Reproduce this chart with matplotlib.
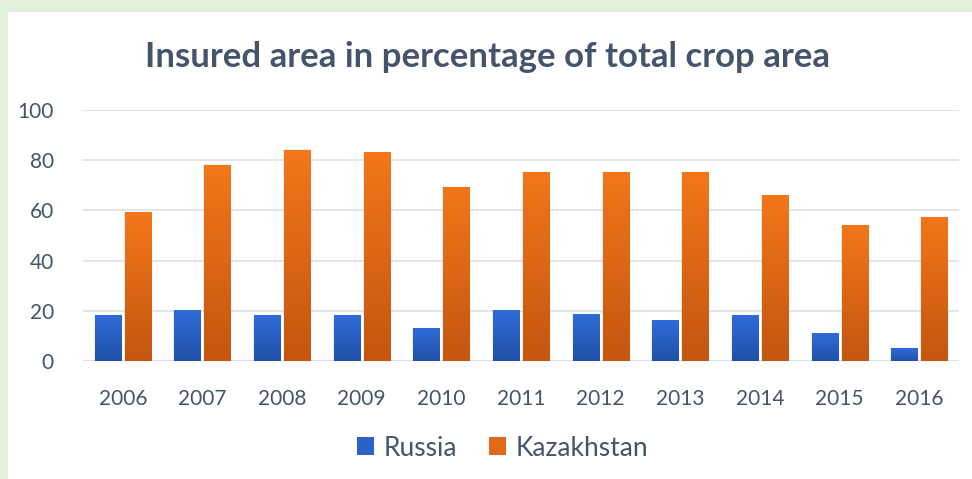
import numpy as np
import matplotlib
matplotlib.use("Agg")
import matplotlib.pyplot as plt
from matplotlib.colors import LinearSegmentedColormap
from matplotlib.patches import Rectangle

years = ["2006", "2007", "2008", "2009", "2010", "2011", "2012", "2013", "2014", "2015", "2016"]
russia = [18, 20, 18, 18, 13, 20, 18.5, 16, 18, 11, 5]
kazakhstan = [59, 78, 84, 83, 69, 75, 75, 75, 66, 54, 57]

txt = "#44546a"
plt.rcParams['font.family'] = ['Lato', 'DejaVu Sans']

fig = plt.figure(figsize=(9.72, 4.79), dpi=100)
fig.patch.set_facecolor("#e2efda")
# white chart area inside green frame
bg = fig.add_axes([8 / 972, 0, 1 - 8 / 972, 1 - 12 / 479], zorder=-1)
bg.set_facecolor("white")
bg.set_xticks([])
bg.set_yticks([])
for s in bg.spines.values():
    s.set_visible(False)

ax = fig.add_axes([83 / 972, (479 - 361) / 479, 876 / 972, 251 / 479])
ax.set_facecolor("none")

x = np.arange(len(years))
w = 0.327
off = w / 2 + 0.025

blue = LinearSegmentedColormap.from_list("b", ["#2150a8", "#2f6cd8"])
orange = LinearSegmentedColormap.from_list("o", ["#c4560f", "#f3761a"])
grad = np.linspace(0, 1, 256).reshape(-1, 1)

def gradient_bars(xs, vals, cmap):
    bars = ax.bar(xs, vals, w, color="none", zorder=3)
    for b in bars:
        x0, y0 = b.get_x(), b.get_y()
        bw, bh = b.get_width(), b.get_height()
        # soft shadow
        ax.add_patch(Rectangle((x0 - 0.012, y0), bw + 0.024, bh + 0.3,
                               facecolor="#000000", alpha=0.06, edgecolor="none", zorder=2))
        # gradient per bar: dark at bottom, bright at top
        ax.imshow(grad, cmap=cmap, aspect="auto", origin="lower",
                  extent=[x0, x0 + bw, y0, y0 + bh], zorder=3)
    return bars

rb = gradient_bars(x - off, russia, blue)
kb = gradient_bars(x + off, kazakhstan, orange)

ax.set_xlim(-0.5, len(years) - 0.5)
ax.set_ylim(0, 100)
ax.set_yticks([0, 20, 40, 60, 80, 100])
ax.set_xticks(x)
ax.set_xticklabels(years)
ax.yaxis.grid(True, color="#dde1e7", linewidth=1.2, zorder=0)
ax.set_axisbelow(True)
for s in ax.spines.values():
    s.set_visible(False)
ax.tick_params(length=0, labelsize=15, colors=txt, pad=20)
ax.tick_params(axis="y", pad=21)
ax.axhline(0, color="#dde1e7", linewidth=1.6, zorder=1)

fig.text(0.502, 1 - 57 / 479, "Insured area in percentage of total crop area",
         ha="center", va="center", fontsize=25, fontweight="bold", color=txt)

hb = [Rectangle((0, 0), 1, 1, facecolor="#2a62c8"), Rectangle((0, 0), 1, 1, facecolor="#e0691a")]
fig.legend(hb, ["Russia", "Kazakhstan"], loc="center", bbox_to_anchor=(0.517, 1 - 448 / 479),
           ncol=2, frameon=False, fontsize=19, labelcolor=txt, handlelength=0.65,
           handleheight=0.65, columnspacing=1.2, handletextpad=0.35)

fig.savefig("out.png", dpi=100, facecolor=fig.get_facecolor())
